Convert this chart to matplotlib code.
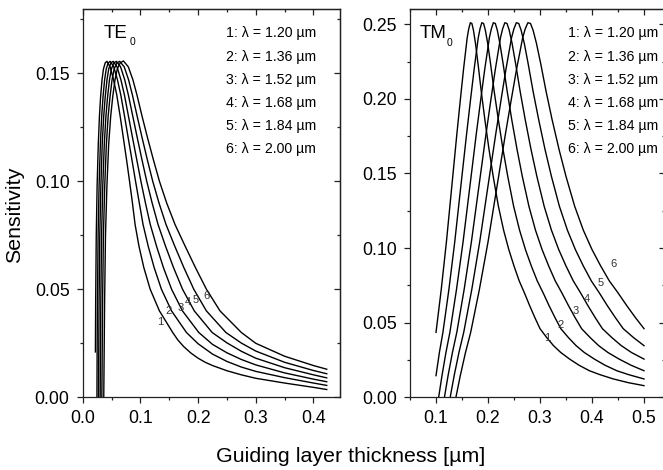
import matplotlib
matplotlib.use("Agg")
import matplotlib.pyplot as plt
from matplotlib.ticker import MultipleLocator, FormatStrFormatter

plt.rcParams['font.family'] = ['Liberation Sans', 'DejaVu Sans']

wavelengths = [1.20, 1.36, 1.52, 1.68, 1.84, 2.00]
curve_ids = ["1", "2", "3", "4", "5", "6"]

# ---------------- TE0 mode: guiding layer thickness [um] vs sensitivity ----------------
te_d1 = [0.022, 0.0225, 0.0235, 0.025, 0.027, 0.029, 0.031, 0.0335, 0.036, 0.039, 0.042,
         0.0475, 0.0535, 0.0590, 0.0650, 0.0705, 0.0760, 0.0812, 0.0862, 0.0908, 0.0975, 0.1060,
         0.1170, 0.1330, 0.1560, 0.165, 0.175, 0.1875, 0.200, 0.2125, 0.225, 0.250, 0.275,
         0.300, 0.350, 0.400, 0.423]
te_s1 = [0.021, 0.045, 0.075, 0.098, 0.117, 0.130, 0.139, 0.147, 0.152, 0.1548, 0.1555,
         0.153, 0.147, 0.140, 0.130, 0.120, 0.110, 0.100, 0.090, 0.080, 0.070, 0.060,
         0.050, 0.040, 0.030, 0.0265, 0.0235, 0.0205, 0.0181, 0.0162, 0.0147, 0.0123, 0.0104,
         0.0088, 0.0066, 0.0046, 0.0036]

te_d2 = [0.0247, 0.0250, 0.0256, 0.0267, 0.0284, 0.0306, 0.0329, 0.0352, 0.0380, 0.0408, 0.0442, 0.0477,
         0.0538, 0.0602, 0.0660, 0.0726, 0.0789, 0.0853, 0.0916, 0.0981, 0.1046, 0.1135, 0.1239,
         0.1365, 0.1540, 0.1798, 0.200, 0.225, 0.250, 0.275, 0.300, 0.350, 0.400, 0.423]
te_s2 = [0.0, 0.021, 0.045, 0.075, 0.098, 0.117, 0.130, 0.139, 0.147, 0.152, 0.1548, 0.1555,
         0.153, 0.147, 0.140, 0.130, 0.120, 0.110, 0.100, 0.090, 0.080, 0.070, 0.060,
         0.050, 0.040, 0.030, 0.0248, 0.0200, 0.0166, 0.0140, 0.0120, 0.0091, 0.0066, 0.0055]

te_d3 = [0.0274, 0.0278, 0.0284, 0.0296, 0.0315, 0.0338, 0.0364, 0.0390, 0.0421, 0.0451, 0.0489, 0.0528,
         0.0595, 0.0662, 0.0723, 0.0794, 0.0865, 0.0937, 0.1009, 0.1087, 0.1171, 0.1279, 0.1400,
         0.1541, 0.1729, 0.2012, 0.225, 0.250, 0.275, 0.300, 0.350, 0.400, 0.423]
te_s3 = [0.0, 0.021, 0.045, 0.075, 0.098, 0.117, 0.130, 0.139, 0.147, 0.152, 0.1548, 0.1555,
         0.153, 0.147, 0.140, 0.130, 0.120, 0.110, 0.100, 0.090, 0.080, 0.070, 0.060,
         0.050, 0.040, 0.030, 0.0245, 0.0206, 0.0175, 0.0150, 0.0113, 0.0084, 0.0072]

te_d4 = [0.0303, 0.0307, 0.0314, 0.0327, 0.0348, 0.0374, 0.0402, 0.0431, 0.0464, 0.0498, 0.0540, 0.0584,
         0.0656, 0.0728, 0.0791, 0.0869, 0.0947, 0.1027, 0.1110, 0.1203, 0.1306, 0.1435, 0.1575,
         0.1731, 0.1934, 0.2244, 0.250, 0.275, 0.300, 0.350, 0.400, 0.423]
te_s4 = [0.0, 0.021, 0.045, 0.075, 0.098, 0.117, 0.130, 0.139, 0.147, 0.152, 0.1548, 0.1555,
         0.153, 0.147, 0.140, 0.130, 0.120, 0.110, 0.100, 0.090, 0.080, 0.070, 0.060,
         0.050, 0.040, 0.030, 0.0252, 0.0213, 0.0181, 0.0137, 0.0104, 0.0090]

te_d5 = [0.0332, 0.0338, 0.0345, 0.0359, 0.0382, 0.0410, 0.0441, 0.0473, 0.0509, 0.0546, 0.0592, 0.0641,
         0.0719, 0.0795, 0.0861, 0.0945, 0.1031, 0.1120, 0.1214, 0.1322, 0.1444, 0.1595, 0.1754,
         0.1926, 0.2144, 0.2482, 0.275, 0.300, 0.350, 0.400, 0.423]
te_s5 = [0.0, 0.021, 0.045, 0.075, 0.098, 0.117, 0.130, 0.139, 0.147, 0.152, 0.1548, 0.1555,
         0.153, 0.147, 0.140, 0.130, 0.120, 0.110, 0.100, 0.090, 0.080, 0.070, 0.060,
         0.050, 0.040, 0.030, 0.0251, 0.0214, 0.0162, 0.0124, 0.0109]

te_d6 = [0.0365, 0.0372, 0.0380, 0.0395, 0.0420, 0.0450, 0.0485, 0.0520, 0.0560, 0.0600, 0.0650, 0.0705,
         0.079, 0.087, 0.094, 0.103, 0.1125, 0.1225, 0.133, 0.1455, 0.160, 0.1775, 0.1955,
         0.2145, 0.238, 0.275, 0.300, 0.350, 0.400, 0.423]
te_s6 = [0.0, 0.021, 0.045, 0.075, 0.098, 0.117, 0.130, 0.139, 0.147, 0.152, 0.1548, 0.1557,
         0.153, 0.147, 0.140, 0.130, 0.120, 0.110, 0.100, 0.090, 0.080, 0.070, 0.060,
         0.050, 0.040, 0.030, 0.0250, 0.0190, 0.0147, 0.0130]

# ---------------- TM0 mode ----------------
tm_d1 = [0.100, 0.110, 0.120, 0.130, 0.140, 0.147, 0.153, 0.157, 0.160, 0.163, 0.166, 0.169,
         0.172, 0.176, 0.181, 0.187, 0.194, 0.202, 0.210, 0.220, 0.230, 0.240, 0.250, 0.260,
         0.270, 0.280, 0.290, 0.300, 0.313, 0.326, 0.340, 0.357, 0.375, 0.395, 0.415, 0.441,
         0.470, 0.500]
tm_s1 = [0.0435, 0.072, 0.104, 0.140, 0.176, 0.200, 0.220, 0.232, 0.241, 0.247, 0.251, 0.2505,
         0.246, 0.237, 0.223, 0.205, 0.186, 0.166, 0.148, 0.128, 0.112, 0.099, 0.088, 0.078,
         0.070, 0.0615, 0.0535, 0.046, 0.040, 0.0346, 0.030, 0.0256, 0.0215, 0.0178, 0.0152, 0.0123,
         0.0098, 0.0078]

tm_d2 = [0.100, 0.1065, 0.1133, 0.1247, 0.1360, 0.1473, 0.1587, 0.1666, 0.1734, 0.1779, 0.1813, 0.1847,
         0.1881, 0.1915, 0.1949, 0.1995, 0.2051, 0.2119, 0.2199, 0.2289, 0.2380, 0.2493, 0.2607, 0.2720,
         0.2833, 0.2947, 0.3060, 0.3173, 0.3287, 0.3400, 0.3547, 0.3695, 0.3853, 0.4046, 0.4250, 0.4477,
         0.4703, 0.5000]
tm_s2 = [0.0145, 0.030, 0.0435, 0.072, 0.104, 0.140, 0.176, 0.200, 0.220, 0.232, 0.241, 0.247,
         0.251, 0.2505, 0.246, 0.237, 0.223, 0.205, 0.186, 0.166, 0.148, 0.128, 0.112, 0.099,
         0.088, 0.078, 0.070, 0.0615, 0.0535, 0.046, 0.040, 0.0346, 0.030, 0.0256, 0.0215, 0.0178,
         0.0152, 0.0123]

tm_d3 = [0.1051, 0.1115, 0.1191, 0.1267, 0.1393, 0.1520, 0.1647, 0.1773, 0.1862, 0.1938, 0.1989, 0.2027,
         0.2065, 0.2103, 0.2141, 0.2179, 0.2229, 0.2293, 0.2369, 0.2457, 0.2559, 0.2660, 0.2787, 0.2913,
         0.3040, 0.3167, 0.3293, 0.3420, 0.3547, 0.3673, 0.3800, 0.3965, 0.4129, 0.4307, 0.4522, 0.4750,
         0.5000]
tm_s3 = [0.0, 0.0145, 0.030, 0.0435, 0.072, 0.104, 0.140, 0.176, 0.200, 0.220, 0.232, 0.241,
         0.247, 0.251, 0.2505, 0.246, 0.237, 0.223, 0.205, 0.186, 0.166, 0.148, 0.128, 0.112,
         0.099, 0.088, 0.078, 0.070, 0.0615, 0.0535, 0.046, 0.040, 0.0346, 0.030, 0.0256, 0.0215,
         0.0178]

tm_d4 = [0.1162, 0.1232, 0.1316, 0.1400, 0.1540, 0.1680, 0.1820, 0.1960, 0.2058, 0.2142, 0.2198, 0.2240,
         0.2282, 0.2324, 0.2366, 0.2408, 0.2464, 0.2534, 0.2618, 0.2716, 0.2828, 0.2940, 0.3080, 0.3220,
         0.3360, 0.3500, 0.3640, 0.3780, 0.3920, 0.4060, 0.4200, 0.4382, 0.4564, 0.4760, 0.5000]
tm_s4 = [0.0, 0.0145, 0.030, 0.0435, 0.072, 0.104, 0.140, 0.176, 0.200, 0.220, 0.232, 0.241,
         0.247, 0.251, 0.2505, 0.246, 0.237, 0.223, 0.205, 0.186, 0.166, 0.148, 0.128, 0.112,
         0.099, 0.088, 0.078, 0.070, 0.0615, 0.0535, 0.046, 0.040, 0.0346, 0.030, 0.0256]

tm_d5 = [0.1273, 0.1349, 0.1441, 0.1533, 0.1687, 0.1840, 0.1993, 0.2147, 0.2254, 0.2346, 0.2407, 0.2453,
         0.2499, 0.2545, 0.2591, 0.2637, 0.2699, 0.2775, 0.2867, 0.2975, 0.3097, 0.3220, 0.3373, 0.3527,
         0.3680, 0.3833, 0.3987, 0.4140, 0.4293, 0.4447, 0.4600, 0.4799, 0.5000]
tm_s5 = [0.0, 0.0145, 0.030, 0.0435, 0.072, 0.104, 0.140, 0.176, 0.200, 0.220, 0.232, 0.241,
         0.247, 0.251, 0.2505, 0.246, 0.237, 0.223, 0.205, 0.186, 0.166, 0.148, 0.128, 0.112,
         0.099, 0.088, 0.078, 0.070, 0.0615, 0.0535, 0.046, 0.040, 0.0346]

tm_d6 = [0.1383, 0.1467, 0.1567, 0.1667, 0.1833, 0.2000, 0.2167, 0.2333, 0.2450, 0.2550, 0.2617, 0.2667,
         0.2717, 0.2767, 0.2817, 0.2867, 0.2933, 0.3017, 0.3117, 0.3233, 0.3367, 0.3500, 0.3667, 0.3833,
         0.4000, 0.4167, 0.4333, 0.4500, 0.4667, 0.4833, 0.5000]
tm_s6 = [0.0, 0.0145, 0.030, 0.0435, 0.072, 0.104, 0.140, 0.176, 0.200, 0.220, 0.232, 0.241,
         0.247, 0.251, 0.2505, 0.246, 0.237, 0.223, 0.205, 0.186, 0.166, 0.148, 0.128, 0.112,
         0.099, 0.088, 0.078, 0.070, 0.0615, 0.0535, 0.046]

# curve-number annotations (x, y) in data units
te_label_x = [0.134, 0.148, 0.169, 0.182, 0.196, 0.214]
te_label_y = [0.035, 0.040, 0.0415, 0.044, 0.045, 0.047]
tm_label_x = [0.314, 0.340, 0.369, 0.390, 0.417, 0.441]
tm_label_y = [0.0395, 0.0484, 0.058, 0.0662, 0.0763, 0.0892]

te_curves = [(te_d1, te_s1), (te_d2, te_s2), (te_d3, te_s3),
             (te_d4, te_s4), (te_d5, te_s5), (te_d6, te_s6)]
tm_curves = [(tm_d1, tm_s1), (tm_d2, tm_s2), (tm_d3, tm_s3),
             (tm_d4, tm_s4), (tm_d5, tm_s5), (tm_d6, tm_s6)]

W, H = 663, 470
fig = plt.figure(figsize=(W / 100, H / 100), dpi=100)


def px_box(x0, x1, y_top, y_bot):
    return [x0 / W, 1 - y_bot / H, (x1 - x0) / W, (y_bot - y_top) / H]


ax_te = fig.add_axes(px_box(82.7, 340.0, 9.3, 397.3))
ax_tm = fig.add_axes(px_box(410.0, 664.8, 9.3, 397.3))

TICK_FS = 12.7
LEG_FS = 10.2
MAJ_LEN = 4.5
MIN_LEN = 2.5


def style_axes(ax, xlim, ylim, xmaj, ymaj):
    ax.set_xlim(*xlim)
    ax.set_ylim(*ylim)
    for sp in ax.spines.values():
        sp.set_linewidth(0.9)
        sp.set_color("#222222")
    ax.xaxis.set_major_locator(MultipleLocator(xmaj))
    ax.xaxis.set_minor_locator(MultipleLocator(xmaj / 2))
    ax.yaxis.set_major_locator(MultipleLocator(ymaj))
    ax.yaxis.set_minor_locator(MultipleLocator(ymaj / 2))
    ax.xaxis.set_major_formatter(FormatStrFormatter("%.1f"))
    ax.yaxis.set_major_formatter(FormatStrFormatter("%.2f"))
    ax.tick_params(which="both", direction="out", top=False, right=False,
                   color="#222222", width=0.9, labelsize=TICK_FS)
    ax.tick_params(which="major", length=MAJ_LEN)
    ax.tick_params(which="minor", length=MIN_LEN)
    ax.tick_params(axis="x", pad=5)
    ax.tick_params(axis="y", pad=5)

    top = ax.secondary_xaxis("top")
    top.xaxis.set_major_locator(MultipleLocator(xmaj))
    top.xaxis.set_minor_locator(MultipleLocator(xmaj / 2))
    top.tick_params(which="both", direction="in", labeltop=False,
                    color="#222222", width=0.9)
    top.tick_params(which="major", length=MAJ_LEN)
    top.tick_params(which="minor", length=MIN_LEN)
    top.spines["top"].set_linewidth(0.9)

    right = ax.secondary_yaxis("right")
    right.yaxis.set_major_locator(MultipleLocator(ymaj))
    right.yaxis.set_minor_locator(MultipleLocator(ymaj / 2))
    right.tick_params(which="both", direction="in", labelright=False,
                      color="#222222", width=0.9)
    right.tick_params(which="major", length=MAJ_LEN)
    right.tick_params(which="minor", length=MIN_LEN)
    right.spines["right"].set_linewidth(0.9)


style_axes(ax_te, (0.0, 0.446), (0.0, 0.1796), 0.1, 0.05)
style_axes(ax_tm, (0.05, 0.54), (0.0, 0.26), 0.1, 0.05)

for d, s in te_curves:
    ax_te.plot(d, s, color="black", lw=1.0)
for d, s in tm_curves:
    ax_tm.plot(d, s, color="black", lw=1.0)

for cid, x, y in zip(curve_ids, te_label_x, te_label_y):
    ax_te.text(x, y, cid, fontsize=8.0, color="#333333", ha="center", va="center")
for cid, x, y in zip(curve_ids, tm_label_x, tm_label_y):
    ax_tm.text(x, y, cid, fontsize=8.0, color="#333333", ha="center", va="center")

# wavelength list inside each panel
row_y = [33.3, 56.7, 80.0, 102.7, 126.0, 148.7]
for ax, x_px, x0_px, x1_px in [(ax_te, 226.0, 82.7, 340.0), (ax_tm, 568.3, 410.0, 664.8)]:
    fx = (x_px - x0_px) / (x1_px - x0_px)
    for cid, lam, ry in zip(curve_ids, wavelengths, row_y):
        fy = 1 - (ry - 9.3) / (397.3 - 9.3)
        ax.text(fx, fy, f"{cid}: λ = {lam:.2f} µm", transform=ax.transAxes,
                fontsize=LEG_FS, ha="left", va="center")


# mode names with subscript
def mode_label(ax, main, x_px, base_px, sub_x_px, sub_base_px, x0_px, x1_px):
    fx = (x_px - x0_px) / (x1_px - x0_px)
    fy = 1 - (base_px - 9.3) / (397.3 - 9.3)
    ax.text(fx, fy, main, transform=ax.transAxes, fontsize=13.5,
            ha="left", va="baseline")
    sx = (sub_x_px - x0_px) / (x1_px - x0_px)
    sy = 1 - (sub_base_px - 9.3) / (397.3 - 9.3)
    ax.text(sx, sy, "0", transform=ax.transAxes, fontsize=7.5,
            ha="left", va="baseline")


mode_label(ax_te, "TE", 104.0, 38.0, 130.0, 45.0, 82.7, 340.0)
mode_label(ax_tm, "TM", 420.0, 37.5, 446.5, 46.0, 410.0, 664.8)

fig.text(350.5 / W, 1 - 462 / H, "Guiding layer thickness [µm]",
         fontsize=15.4, ha="center", va="baseline")
fig.text(15 / W, 1 - 215 / H, "Sensitivity", fontsize=15.4,
         rotation=90, ha="center", va="center")

fig.savefig("out.png", dpi=100)
